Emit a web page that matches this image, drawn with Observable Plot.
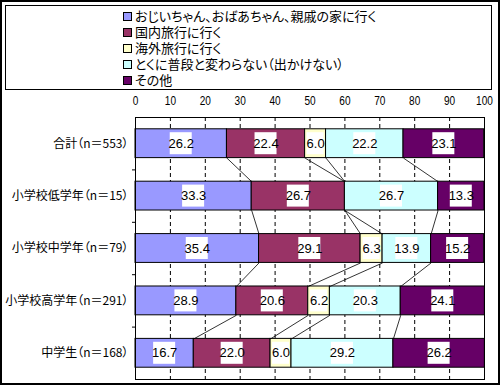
<!DOCTYPE html>
<html>
<head>
<meta charset="utf-8">
<script src="https://cdn.jsdelivr.net/npm/d3@7"></script>
<script src="https://cdn.jsdelivr.net/npm/@observablehq/plot@0.6"></script>
<style>
  html, body { margin: 0; padding: 0; background: #fff; }
  #wrap { position: relative; width: 500px; height: 385px; overflow: hidden; }
  #wrap svg { position: absolute; left: 0; top: 0; }
  #border { position: absolute; left: 0; top: 0; width: 500px; height: 385px; box-sizing: border-box; border: 2px solid #000; pointer-events: none; }
  #legend { position: absolute; left: 5px; top: 5px; width: 487px; height: 85px; box-sizing: border-box; border: 1px solid #000; background: #fff;
            font-family: "Noto Sans CJK JP", sans-serif; font-size: 13px; font-feature-settings: "palt"; color: #000; }
  .item { position: absolute; left: 117px; height: 16px; line-height: 16px; white-space: nowrap; }
  .sw { display: inline-block; width: 7px; height: 7px; border: 1px solid #000; vertical-align: middle; margin-right: 3px; position: relative; top: -1px; }
</style>
</head>
<body>
<div id="wrap">
  <div id="chart"></div>
  <div id="legend"></div>
  <div id="border"></div>
</div>
<script>
const categories = ["合計（n＝553）", "小学校低学年（n＝15）", "小学校中学年（n＝79）", "小学校高学年（n＝291）", "中学生（n＝168）"];
const seriesNames = ["おじいちゃん、おばあちゃん、親戚の家に行く", "国内旅行に行く", "海外旅行に行く", "とくに普段と変わらない（出かけない）", "その他"];
const seriesColors = ["#9999FF", "#993366", "#FFFFCC", "#CCFFFF", "#660066"];
const relatives = [26.2, 33.3, 35.4, 28.9, 16.7];
const domestic  = [22.4, 26.7, 29.1, 20.6, 22.0];
const overseas  = [6.0, 0.0, 6.3, 6.2, 6.0];
const usual     = [22.2, 26.7, 13.9, 20.3, 29.2];
const other     = [23.1, 13.3, 15.2, 24.1, 26.2];
const xTicks = [0, 10, 20, 30, 40, 50, 60, 70, 80, 90, 100];

const series = [relatives, domestic, overseas, usual, other];

// layout constants (pixels)
const W = 500, H = 385, mL = 135, mR = 16, mT = 117, mB = 6;
const pxX = (W - mL - mR) / 100;
const pxY = (H - mT - mB) / categories.length;
const half = 0.275;
const boxHalfY = 11 / pxY;

const segments = [];
const bounds = [];
categories.forEach((c, i) => {
  let acc = 0;
  const b = [];
  series.forEach((s, k) => {
    const v = s[i];
    segments.push({i, k, v, x1: acc, x2: acc + v, xc: acc + v / 2});
    acc += v;
    b.push(acc);
  });
  bounds.push(b);
});

const links = [];
for (let i = 0; i < categories.length - 1; i++) {
  for (let k = 0; k < 4; k++) {
    links.push({x1: bounds[i][k], y1: i + half, x2: bounds[i + 1][k], y2: i + 1 - half});
  }
}

const labels = segments.filter(d => d.v > 0).map(d => {
  const t = d.v.toFixed(1);
  const hw = (t.length > 3 ? 11 : 8.5) / pxX;
  return {...d, t, bx1: d.xc - hw, bx2: d.xc + hw};
});

const numFont = "'Liberation Sans', Arial, sans-serif";
const jpFont = "'Noto Sans CJK JP', sans-serif";

const chart = Plot.plot({
  width: W,
  height: H,
  marginLeft: mL,
  marginRight: mR,
  marginTop: mT,
  marginBottom: mB,
  x: {domain: [0, 100]},
  y: {domain: [-0.5, categories.length - 0.5], reverse: true},
  style: {background: "transparent", color: "#000"},
  marks: [
    Plot.ruleX(xTicks.filter(t => t > 0 && t < 100), {stroke: "#000", strokeWidth: 1, strokeDasharray: "4,3"}),
    Plot.rectX(segments.filter(d => d.v > 0), {
      x1: "x1", x2: "x2",
      y1: d => d.i - half, y2: d => d.i + half,
      fill: d => seriesColors[d.k], stroke: "#000", strokeWidth: 1
    }),
    Plot.link(links, {x1: "x1", y1: "y1", x2: "x2", y2: "y2", stroke: "#000", strokeWidth: 0.8}),
    Plot.rect(labels, {x1: "bx1", x2: "bx2", y1: d => d.i - boxHalfY, y2: d => d.i + boxHalfY, fill: "#fff"}),
    Plot.text(labels, {x: "xc", y: "i", text: "t", fill: "#000", fontSize: 13, fontFamily: numFont, ariaLabel: "value label"}),
    Plot.frame({stroke: "#000", strokeWidth: 1}),
    Plot.axisX({anchor: "top", ticks: xTicks, tickSize: 0, tickPadding: 13, fontSize: 13, fontFamily: numFont, tickFormat: d => String(d)}),
    Plot.axisY({anchor: "left", ticks: d3.range(categories.length), tickFormat: i => categories[i], tickSize: 0, tickPadding: 7, fontSize: 12, fontFamily: jpFont}),
    Plot.axisY({anchor: "left", ticks: d3.range(categories.length - 1).map(i => i + 0.5), tickFormat: () => "", tickSize: 3})
  ]
});
document.getElementById("chart").appendChild(chart);
chart.querySelectorAll("text").forEach(t => t.style.fontFeatureSettings = '"palt"');

// condense value-label digits horizontally about their own centre (positioned by x/y attributes)
chart.querySelectorAll('g[aria-label="value label"] text').forEach(t => {
  t.style.transformBox = "fill-box";
  t.style.transformOrigin = "center";
  t.style.transform = "scaleX(0.8)";
});
// tick labels are positioned by a transform attribute, so condense them with textLength instead
chart.querySelectorAll('g[aria-label="x-axis tick label"] text').forEach(t => {
  let w = 0;
  for (const ch of t.textContent) w += (ch === ".") ? 2.5 : 5.6;
  t.setAttribute("textLength", w);
  t.setAttribute("lengthAdjust", "spacingAndGlyphs");
});

const legend = document.getElementById("legend");
seriesNames.forEach((name, k) => {
  const it = document.createElement("div");
  it.className = "item";
  it.style.top = (2 + k * 16) + "px";
  const sw = document.createElement("span");
  sw.className = "sw";
  sw.style.background = seriesColors[k];
  it.appendChild(sw);
  it.appendChild(document.createTextNode(name));
  legend.appendChild(it);
});
</script>
</body>
</html>
